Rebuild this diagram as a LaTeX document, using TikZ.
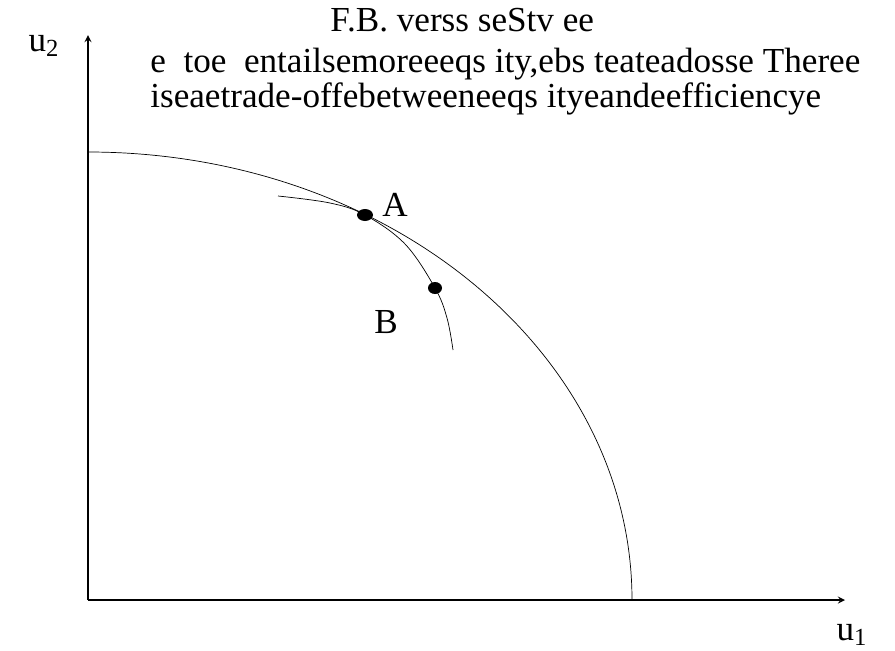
\documentclass[tikz,border=0pt]{standalone}
\usepackage{fontspec}
\setmainfont{Liberation Serif}
\usepackage{tikz}
\usetikzlibrary{shapes.geometric}

\begin{document}
\begin{tikzpicture}[
    x=0.02cm, y=-0.02cm,
    >=stealth,
    axis/.style={->, thick},
    curve/.style={thin},
    dot/.style={fill=black, ellipse, inner sep=0pt},
    label/.style={font=\fontsize{20}{24}\selectfont, inner sep=0pt},
    title/.style={font=\fontsize{20}{24}\selectfont, inner sep=0pt, anchor=west}
]
\useasboundingbox (0,0) rectangle (895,650);

% axes
\coordinate (origin) at (88,600);
\coordinate (ytop) at (88,35);
\coordinate (xend) at (845,600);
\draw[axis] (origin) -- (ytop);
\draw[axis] (origin) -- (xend);
\node[label] (u2) at (44,46) {u\textsubscript{2}};
\node[label] (u1) at (852,635) {u\textsubscript{1}};

% title text
\node[title] (t1) at (330,20) {F.B. verss seStv ee};
\node[title] (t2) at (150,64) {e\ \ toe\ \ entailsemoreeeqs ity,ebs teateadosse Theree};
\node[title] (t3) at (150,99) {iseaetrade-offebetweeneeqs ityeandeefficiencye};

% utility frontier
\draw[curve] (88,152) arc[start angle=90, end angle=0, x radius=544, y radius=-448];

% welfare contour
\draw[curve] plot[smooth, tension=0.6] coordinates
    {(278,196) (330,203) (365,215) (405,244) (435,288) (447,318) (453,350)};

% points
\node[dot, minimum width=0.32cm, minimum height=0.24cm] (A) at (365,215) {};
\node[dot, minimum width=0.28cm, minimum height=0.24cm] (B) at (435,288) {};
\node[label] (Alab) at (395,205) {A};
\node[label] (Blab) at (386,322) {B};
\end{tikzpicture}
\end{document}
